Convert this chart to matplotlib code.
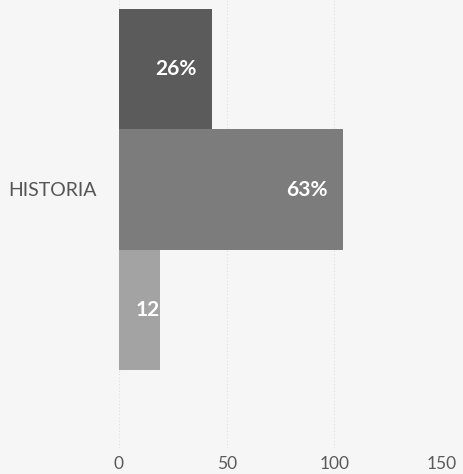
import matplotlib
matplotlib.use("Agg")
import matplotlib.pyplot as plt

# Data
category = "HISTORIA"
series_values = [43, 104, 19]          # top, middle, bottom bar lengths
series_labels = ["26%", "63%", "12%"]
bar_colors = ["#5b5b5b", "#7c7c7c", "#a3a3a3"]
x_ticks = [0, 50, 100, 150]

W, H = 464, 474
fig = plt.figure(figsize=(W / 100, H / 100), dpi=100)
fig.patch.set_facecolor("#f6f6f6")

left_px, right_px = 119, 442
bottom_px, top_px = 448, -69
ax = fig.add_axes([left_px / W, (H - bottom_px) / H,
                   (right_px - left_px) / W, (bottom_px - top_px) / H])
ax.set_facecolor("none")

positions = list(range(len(series_values)))
bars = ax.barh(positions, series_values, height=1.0, color=bar_colors,
               edgecolor="none", zorder=2)

ax.set_xlim(x_ticks[0], x_ticks[-1])
ax.set_ylim(len(series_values) - 0.5 + 0.65, -0.5 - 0.65)
ax.set_xticks(x_ticks)
ax.set_xticklabels([str(t) for t in x_ticks])
ax.set_yticks([positions[len(positions) // 2]])
ax.set_yticklabels([category])

for s in ax.spines.values():
    s.set_visible(False)
ax.tick_params(axis="x", length=0, pad=6, labelsize=12.5, labelcolor="#5a5a5a")
ax.tick_params(axis="y", length=0, pad=16, labelsize=14, labelcolor="#555555")
for lab in ax.get_xticklabels() + ax.get_yticklabels():
    lab.set_fontfamily("Lato")

ax.xaxis.grid(True, color="#dedede", linewidth=0.8, linestyle=(0, (1, 2)), zorder=0)
ax.set_axisbelow(True)

for bar, val, lab in zip(bars, series_values, series_labels):
    y = bar.get_y() + bar.get_height() / 2
    off = 12 if val < 30 else -11
    t = ax.annotate(lab, (val, y), xytext=(off, 0), textcoords="offset points",
                    ha="right", va="center", color="white", fontsize=15,
                    fontweight="bold", fontfamily="Lato", zorder=3)
    t.set_clip_path(bar)

fig.savefig("out.png", dpi=100, facecolor=fig.get_facecolor())
